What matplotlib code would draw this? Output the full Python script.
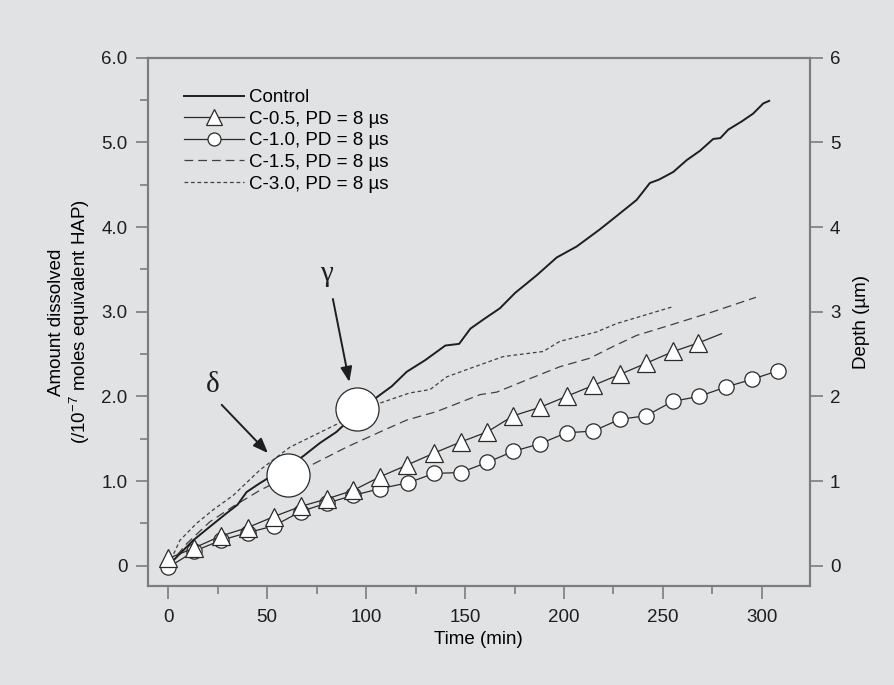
import numpy as np
import matplotlib.pyplot as plt

plt.rcParams['font.family'] = ['Liberation Sans', 'DejaVu Sans']
plt.rcParams['mathtext.fontset'] = 'custom'
plt.rcParams['mathtext.rm'] = 'Liberation Sans'

bg = '#e1e2e4'
spine_col = '#7d7d7d'

# Control (solid)
ctrl_t = [0, 5, 12.6, 21, 29.5, 35, 39.6, 46, 55, 60, 68, 76.7, 85, 95, 106, 113,
          120.5, 130, 140, 147, 152.7, 160, 167.6, 175.2, 186.2, 196.3, 206.4, 218,
          226.6, 236.7, 243.4, 248, 255.2, 262, 268.7, 275.4, 279, 283, 290, 295.6,
          300.7, 303.7]
ctrl_y = [0.0, 0.12, 0.30, 0.46, 0.62, 0.72, 0.87, 0.97, 1.10, 1.17, 1.29, 1.45, 1.58,
          1.80, 2.00, 2.12, 2.29, 2.43, 2.60, 2.62, 2.80, 2.92, 3.04, 3.22, 3.43, 3.64,
          3.77, 3.97, 4.13, 4.32, 4.52, 4.56, 4.65, 4.79, 4.90, 5.04, 5.05, 5.15, 5.25,
          5.34, 5.46, 5.49]

# C-0.5 (triangles), last point is line end without marker
c05_t = [0, 13.1, 26.5, 40.1, 53.4, 66.9, 80.3, 93.5, 107, 120.8, 134.3, 147.7, 161.2,
         174.3, 187.8, 201.3, 214.8, 228.3, 241.4, 255.2, 267.8, 279.6]
c05_y = [0.085, 0.21, 0.35, 0.45, 0.58, 0.70, 0.79, 0.89, 1.05, 1.19, 1.33, 1.46, 1.58,
         1.77, 1.87, 2.00, 2.13, 2.26, 2.39, 2.53, 2.63, 2.74]

# C-1.0 (circles)
c10_t = [0, 13.1, 26.5, 40.1, 53.4, 66.9, 80.3, 93.5, 107, 121.3, 134.4, 147.7, 161.2,
         174.3, 187.8, 201.3, 214.8, 228.3, 241.4, 254.9, 268.3, 281.8, 294.8, 307.9]
c10_y = [-0.02, 0.17, 0.30, 0.39, 0.47, 0.64, 0.74, 0.83, 0.91, 0.98, 1.09, 1.10, 1.22,
         1.35, 1.44, 1.57, 1.59, 1.73, 1.77, 1.94, 2.00, 2.11, 2.20, 2.30]

# C-1.5 (long dashes)
c15_t = [0, 9.3, 21.1, 32.8, 46.3, 60, 71.6, 90.1, 107, 120.5, 135.6, 157.5, 166, 182.8,
         197.9, 213, 224.9, 236.7, 253.5, 275.4, 297]
c15_y = [0.0, 0.26, 0.52, 0.70, 0.89, 1.05, 1.18, 1.40, 1.58, 1.72, 1.82, 2.02, 2.05,
         2.21, 2.35, 2.45, 2.59, 2.72, 2.84, 3.00, 3.17]

# C-3.0 (short dashes)
c30_t = [0, 5.9, 14.3, 22.7, 32.8, 46.3, 61.5, 84.2, 107, 122, 132.3, 140.7, 152.5,
         169.3, 189.5, 197.9, 216.4, 226.6, 255.2]
c30_y = [0.0, 0.30, 0.50, 0.66, 0.83, 1.13, 1.40, 1.66, 1.92, 2.04, 2.08, 2.23, 2.33,
         2.47, 2.53, 2.65, 2.76, 2.86, 3.06]

# big marked points
mark_labels = ['δ', 'γ']
mark_t = [60.3, 95.5]
mark_y = [1.07, 1.85]
label_t = [22.7, 80.0]
label_y = [2.13, 3.45]
arrow_start_t = [27.0, 83.2]
arrow_start_y = [1.90, 3.15]
arrow_end_t = [50.4, 91.5]
arrow_end_y = [1.33, 2.17]

fig = plt.figure(figsize=(8.95, 6.85), dpi=100, facecolor=bg)
ax = fig.add_axes([0.165, 0.1445, 0.74, 0.7713], facecolor=bg)

ax.plot(c30_t, c30_y, color='#404040', lw=0.9, ls=(0, (3, 2.2)), label='C-3.0, PD = 8 µs', zorder=2)
ax.plot(c15_t, c15_y, color='#404040', lw=0.9, ls=(0, (7, 4)), label='C-1.5, PD = 8 µs', zorder=2)
ax.plot(ctrl_t, ctrl_y, color='#1e1e1e', lw=1.4, label='Control', zorder=3)
ax.plot(c10_t, c10_y, color='#2a2a2a', lw=0.9, marker='o', ms=11, mfc='white',
        mec='#2a2a2a', mew=0.9, label='C-1.0, PD = 8 µs', zorder=4)
ax.plot(c05_t, c05_y, color='#2a2a2a', lw=0.9, marker='^', ms=13, mfc='white',
        mec='#2a2a2a', mew=0.9, markevery=list(range(len(c05_t) - 1)),
        label='C-0.5, PD = 8 µs', zorder=5)

ax.scatter(mark_t, mark_y, s=31 ** 2, facecolor='white', edgecolor='#2a2a2a', lw=0.9, zorder=6)
for lab, lt, ly, st, sy, et, ey in zip(mark_labels, label_t, label_y, arrow_start_t,
                                       arrow_start_y, arrow_end_t, arrow_end_y):
    ax.text(lt, ly, lab, fontsize=21, family='Liberation Serif', ha='center', va='center',
            color='#1e1e1e')
    ax.annotate('', xy=(et, ey), xytext=(st, sy),
                arrowprops=dict(arrowstyle='-|>,head_length=0.9,head_width=0.35',
                                color='#1e1e1e', lw=1.4, shrinkA=0, shrinkB=0))

ax.set_xlim(-10.4, 324.3)
ax.set_ylim(-0.24, 6.0)
ax.set_xticks(range(0, 301, 50))
ax.set_xticks(range(25, 300, 50), minor=True)
ax.set_yticks(np.arange(0, 6.01, 1.0))
ax.set_yticks(np.arange(0.5, 6, 1.0), minor=True)
ax.set_yticklabels(['0', '1.0', '2.0', '3.0', '4.0', '5.0', '6.0'])
ax.tick_params(which='both', direction='out', colors='#1e1e1e', labelsize=13.5,
               top=False, right=False)
ax.tick_params(which='major', length=9, width=1.2, color=spine_col, pad=5.5)
ax.tick_params(which='minor', length=6, width=1.2, color=spine_col)
ax.tick_params(axis='x', which='major', pad=7.5)
for s in ax.spines.values():
    s.set_color(spine_col)
    s.set_linewidth(1.5)

ax.set_xlabel('Time (min)', fontsize=13.5, labelpad=4)
ax.set_ylabel('Amount dissolved\n(/10$^{-7}$ moles equivalent HAP)', fontsize=13.5,
              labelpad=7, linespacing=1.1)

ax2 = ax.twinx()
ax2.set_ylim(-0.24, 6.0)
ax2.set_yticks(range(0, 7))
ax2.tick_params(direction='out', length=9, width=1.2, color=spine_col, labelsize=13.5,
                pad=5.5, labelcolor='#1e1e1e')
for s in ax2.spines.values():
    s.set_color(spine_col)
    s.set_linewidth(1.5)
ax2.set_ylabel('Depth (µm)', fontsize=13.5, labelpad=9)

handles, labels = ax.get_legend_handles_labels()
order = ['Control', 'C-0.5, PD = 8 µs', 'C-1.0, PD = 8 µs', 'C-1.5, PD = 8 µs', 'C-3.0, PD = 8 µs']
hmap = dict(zip(labels, handles))
ax.legend([hmap[k] for k in order], order, loc='upper left', bbox_to_anchor=(0.043, 0.955),
          frameon=False, fontsize=13.5, handlelength=3.2, numpoints=1, labelspacing=0.24,
          borderaxespad=0, handletextpad=0.3, markerscale=0.85)

fig.savefig('out.png', dpi=100, facecolor=bg)
